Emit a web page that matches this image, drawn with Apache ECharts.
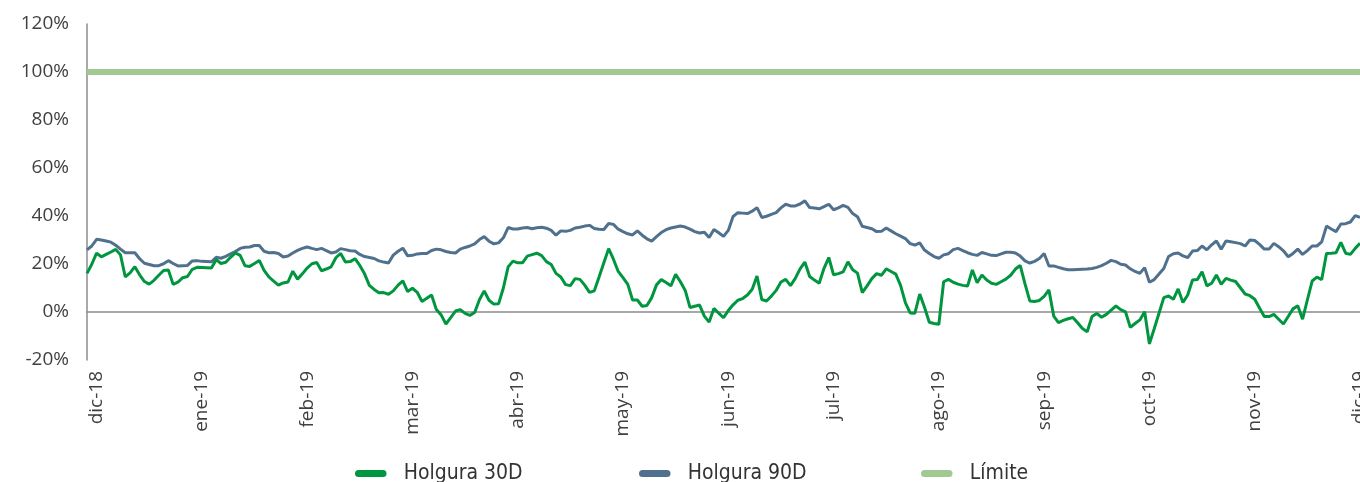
<!DOCTYPE html>
<html>
<head>
<meta charset="utf-8">
<script src="https://cdn.jsdelivr.net/npm/echarts@6/dist/echarts.min.js"></script>
<style>
  html, body { margin: 0; padding: 0; background: #ffffff; overflow: hidden; }
  #chart { width: 1360px; height: 482px; }
</style>
</head>
<body>
<div id="chart"></div>
<script>
// Month tick labels along the horizontal axis
const monthLabels = ['dic-18', 'ene-19', 'feb-19', 'mar-19', 'abr-19', 'may-19', 'jun-19',
  'jul-19', 'ago-19', 'sep-19', 'oct-19', 'nov-19', 'dic-19'];

// Holgura 30D (%), one value per trading day
const holgura30 = [
  16.1, 19.9, 24.5, 23.0, 24.0, 25.0, 26.1, 23.8, 14.6, 16.3,
  18.9, 15.5, 12.7, 11.6, 13.2, 15.3, 17.3, 17.5, 11.5, 12.4,
  14.3, 14.8, 17.8, 18.6, 18.5, 18.4, 18.3, 21.8, 20.2, 20.7,
  22.8, 24.6, 23.6, 19.3, 19.0, 20.2, 21.5, 17.3, 14.6, 12.9,
  11.2, 12.1, 12.5, 17.0, 13.7, 15.9, 18.3, 20.1, 20.6, 17.2,
  17.9, 18.8, 22.6, 24.4, 20.8, 21.0, 22.2, 19.4, 15.9, 11.1,
  9.4, 8.0, 8.1, 7.4, 8.8, 11.2, 13.0, 8.5, 9.9, 8.2,
  4.4, 5.7, 7.1, 1.0, -1.2, -5.0, -2.3, 0.4, 1.0, -0.6,
  -1.4, -0.2, 5.1, 8.8, 4.9, 3.3, 3.4, 10.0, 18.8, 21.2,
  20.5, 20.5, 23.3, 23.9, 24.5, 23.5, 21.0, 19.8, 16.1, 14.6,
  11.4, 11.0, 13.9, 13.6, 11.2, 8.2, 8.8, 14.6, 20.5, 26.4,
  22.0, 16.9, 14.3, 11.5, 5.0, 5.0, 2.4, 2.7, 6.0, 11.3,
  13.5, 12.3, 10.9, 15.7, 12.6, 9.0, 1.9, 2.4, 2.9, -1.7,
  -4.2, 1.5, -0.5, -2.4, 0.6, 3.0, 4.9, 5.6, 7.1, 9.5,
  15.0, 5.2, 4.6, 6.6, 9.0, 12.5, 13.6, 11.0, 14.0, 18.0,
  20.8, 14.8, 13.3, 12.0, 18.2, 22.7, 15.5, 16.0, 16.7, 20.9,
  17.6, 16.2, 8.1, 10.9, 13.9, 16.0, 15.3, 18.0, 16.9, 15.8,
  11.1, 3.9, -0.4, -0.5, 7.5, 2.0, -4.3, -4.8, -5.1, 12.6,
  13.6, 12.4, 11.6, 11.1, 10.8, 17.5, 12.2, 15.4, 13.3, 12.0,
  11.5, 12.6, 13.7, 15.3, 17.9, 19.4, 11.7, 4.6, 4.4, 4.8,
  6.5, 9.2, -1.7, -4.4, -3.5, -2.8, -2.3, -4.5, -6.9, -8.2,
  -1.9, -0.6, -2.2, -1.0, 0.8, 2.5, 1.0, 0.1, -6.4, -4.8,
  -3.3, 0.1, -13.3, -7.0, -0.5, 6.0, 6.7, 5.3, 9.6, 4.0,
  7.1, 13.3, 13.5, 16.8, 10.9, 12.0, 15.4, 11.5, 14.0, 13.3,
  12.7, 10.1, 7.5, 6.8, 5.3, 1.7, -1.9, -1.9, -1.0, -3.0,
  -5.0, -1.9, 1.3, 2.6, -3.0, 5.0, 12.9, 14.5, 13.5, 24.4,
  24.5, 24.7, 29.0, 24.5, 24.0, 26.5, 28.6
];

// Holgura 90D (%), one value per trading day
const holgura90 = [
  25.9, 27.5, 30.3, 30.0, 29.6, 29.1, 27.8, 26.2, 24.7, 24.7,
  24.7, 22.2, 20.3, 19.8, 19.3, 19.3, 20.1, 21.4, 20.2, 19.2,
  19.3, 19.4, 21.3, 21.4, 21.1, 21.0, 20.9, 22.8, 22.4, 23.2,
  24.2, 25.2, 26.5, 27.0, 27.1, 27.7, 27.7, 25.3, 24.7, 24.8,
  24.4, 22.9, 23.3, 24.6, 25.7, 26.5, 27.1, 26.5, 26.0, 26.5,
  25.6, 24.6, 25.0, 26.4, 26.0, 25.5, 25.4, 24.0, 23.1, 22.7,
  22.3, 21.3, 20.8, 20.4, 23.7, 25.3, 26.6, 23.4, 23.6, 24.2,
  24.4, 24.4, 25.6, 26.2, 25.9, 25.2, 24.8, 24.6, 26.2, 26.9,
  27.5, 28.4, 30.2, 31.4, 29.5, 28.4, 28.8, 30.9, 35.2, 34.6,
  34.6, 35.0, 35.2, 34.7, 35.1, 35.3, 34.9, 34.0, 32.0, 33.8,
  33.6, 34.0, 35.0, 35.3, 35.8, 36.1, 34.8, 34.5, 34.4, 36.9,
  36.5, 34.5, 33.5, 32.6, 32.1, 33.8, 32.0, 30.5, 29.5, 31.4,
  33.1, 34.3, 35.0, 35.4, 35.8, 35.4, 34.5, 33.5, 32.9, 33.2,
  31.0, 34.4, 33.0, 31.5, 34.0, 39.8, 41.4, 41.2, 41.0, 42.0,
  43.5, 39.4, 39.9, 40.7, 41.4, 43.4, 44.9, 44.2, 44.2, 45.0,
  46.3, 43.5, 43.3, 43.0, 43.9, 44.9, 42.6, 43.4, 44.4, 43.6,
  41.0, 39.7, 35.7, 35.2, 34.7, 33.5, 33.6, 35.0, 33.8, 32.6,
  31.6, 30.6, 28.5, 27.9, 28.8, 25.8, 24.4, 23.1, 22.4, 23.8,
  24.3, 26.0, 26.5, 25.6, 24.7, 24.0, 23.6, 24.8, 24.2, 23.6,
  23.5, 24.2, 24.9, 24.9, 24.6, 23.3, 21.3, 20.4, 21.1, 22.3,
  24.4, 19.2, 19.2, 18.6, 18.0, 17.6, 17.6, 17.7, 17.8, 17.9,
  18.1, 18.6, 19.3, 20.3, 21.5, 21.0, 19.9, 19.6, 18.0, 16.9,
  16.1, 18.5, 12.4, 13.5, 15.8, 18.1, 23.1, 24.3, 24.6, 23.4,
  22.7, 25.4, 25.6, 27.5, 25.9, 28.0, 29.6, 26.1, 29.6, 29.3,
  28.9, 28.5, 27.5, 30.0, 29.8, 28.2, 26.2, 26.2, 28.6, 27.2,
  25.5, 23.0, 24.4, 26.2, 24.0, 25.6, 27.5, 27.5, 29.2, 35.8,
  34.6, 33.5, 36.7, 36.8, 37.5, 40.2, 39.4
];

// Regulatory limit (%)
const limiteValue = 100;

// Series names
const names = ['Holgura 30D', 'Holgura 90D', 'Límite'];
const colors = ['#00963f', '#50718d', '#a3c992'];

// One category per trading day; a month label every 22 days, offset by 2
const labelStart = 2;
const labelStep = 22;
const categories = holgura30.map((_, i) => String(i));
const limite = holgura30.map(() => limiteValue);

const chart = echarts.init(document.getElementById('chart'), null, { renderer: 'canvas' });

const textFont = "'Liberation Sans Narrow', 'DejaVu Sans Condensed', 'Roboto', sans-serif";
const axisFont = "'Open Sans', 'Noto Sans', sans-serif";
const capsule = 'path://M4,0 L32,0 A4,4 0 0 1 32,8 L4,8 A4,4 0 0 1 4,0 Z';

function legendAt(name, left) {
  return {
    data: [name],
    left: left,
    top: 458,
    itemWidth: 36,
    itemHeight: 7,
    icon: capsule,
    itemGap: 0,
    textStyle: { fontFamily: textFont, fontSize: 21, color: '#333333', padding: [0, 0, 0, 10] },
    selectedMode: false
  };
}

chart.setOption({
  animation: false,
  backgroundColor: '#ffffff',
  // the time axis runs up to the right edge; its last label is allowed to be cut
  grid: { left: 87, right: 0, top: 24, bottom: 122, containLabel: false, outerBoundsMode: 'none' },
  legend: [
    legendAt(names[0], 350),
    legendAt(names[1], 634),
    legendAt(names[2], 916)
  ],
  xAxis: {
    type: 'category',
    data: categories,
    boundaryGap: false,
    axisLine: { show: true, lineStyle: { color: '#8c8c8c', width: 1.5 } },
    axisTick: { show: false },
    splitLine: { show: false },
    axisLabel: {
      rotate: 90,
      margin: 11,
      fontSize: 19,
      color: '#404040',
      fontFamily: axisFont,
      interval: (index) => index >= labelStart && (index - labelStart) % labelStep === 0,
      formatter: (value, index) => monthLabels[(index - labelStart) / labelStep] || ''
    }
  },
  yAxis: {
    type: 'value',
    min: -20,
    max: 120,
    interval: 20,
    axisLine: { show: true, lineStyle: { color: '#8c8c8c', width: 1.5 } },
    axisTick: { show: false },
    splitLine: { show: false },
    axisLabel: {
      formatter: '{value}%',
      margin: 18,
      fontSize: 19,
      color: '#404040',
      fontFamily: axisFont
    }
  },
  series: [
    {
      name: names[2], type: 'line', data: limite, symbol: 'none',
      lineStyle: { color: colors[2], width: 6 }, itemStyle: { color: colors[2] }
    },
    {
      name: names[1], type: 'line', data: holgura90, symbol: 'none',
      lineStyle: { color: colors[1], width: 3 }, itemStyle: { color: colors[1] }
    },
    {
      name: names[0], type: 'line', data: holgura30, symbol: 'none',
      lineStyle: { color: colors[0], width: 3 }, itemStyle: { color: colors[0] }
    }
  ]
});
</script>
</body>
</html>
